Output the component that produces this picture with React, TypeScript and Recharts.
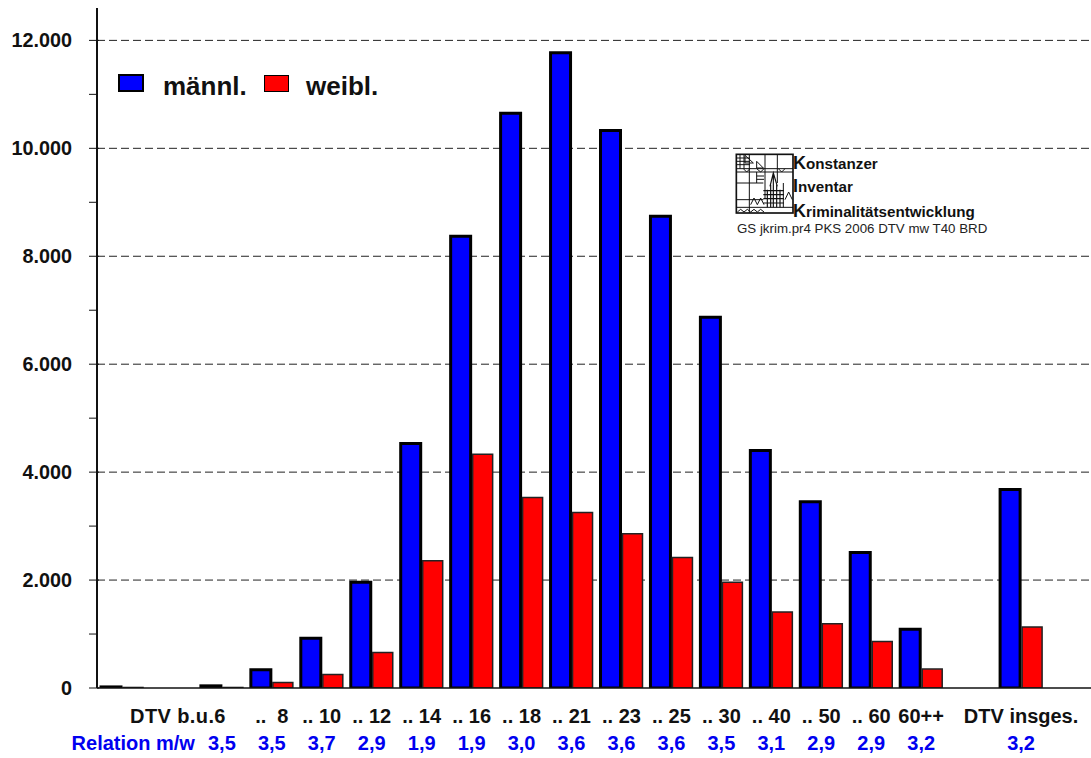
import React from 'react';
import { BarChart, Bar, XAxis, YAxis, CartesianGrid } from 'recharts';

const categories = ['', '', 'DTV b.u.6', '..  8', '.. 10', '.. 12', '.. 14', '.. 16', '.. 18', '.. 21', '.. 23', '.. 25', '.. 30', '.. 40', '.. 50', '.. 60', '60++', '', 'DTV insges.', ' '];
const relation = ['', 'Relation m/w', '3,5', '3,5', '3,7', '2,9', '1,9', '1,9', '3,0', '3,6', '3,6', '3,6', '3,5', '3,1', '2,9', '2,9', '3,2', '', '3,2', ''];
const maleValues = [20, 0, 40, 340, 920, 1960, 4530, 8370, 10650, 11770, 10330, 8740, 6870, 4400, 3450, 2510, 1090, 0, 3680, 0];
const femaleValues = [10, 0, 10, 100, 250, 660, 2360, 4330, 3530, 3250, 2860, 2420, 1960, 1410, 1190, 860, 350, 0, 1130, 0];
const yTicks = [0, 1000, 2000, 3000, 4000, 5000, 6000, 7000, 8000, 9000, 10000, 11000, 12000];
const gridValues = [2000, 4000, 6000, 8000, 10000, 12000];
const maleName = 'männl.';
const femaleName = 'weibl.';

const data = categories.map((c, i) => ({
  key: i,
  label: c,
  relation: relation[i],
  male: maleValues[i],
  female: femaleValues[i],
}));

const FONT = '"Liberation Sans", Arial, sans-serif';

const YTick = (props: any) => {
  const { x, y, payload } = props;
  const v = payload.value;
  const major = v % 2000 === 0;
  return (
    <g>
      <line x1={x} x2={x + (major ? 10 : 8)} y1={y} y2={y} stroke="#111" strokeWidth={1} />
      {major && (
        <text x={72} y={y + 7} textAnchor="end" fontFamily={FONT} fontWeight="bold" fontSize={19.8} fill="#111">
          {v === 0 ? '0' : v.toLocaleString('de-DE')}
        </text>
      )}
    </g>
  );
};

const XTick = (props: any) => {
  const { x, payload } = props;
  const row = data[payload.index] || data[payload.value];
  if (!row) return null;
  const isFirst = row.label === 'DTV b.u.6';
  const isRel = row.relation.startsWith('Rel');
  return (
    <g fontFamily={FONT} fontWeight="bold" fontSize={20}>
      <text x={isFirst ? x + 4 : x} y={723} textAnchor={isFirst ? 'end' : 'middle'} letterSpacing={isFirst ? 0.4 : 0} fill="#111" xmlSpace="preserve">{row.label}</text>
      <text x={isRel ? x + 23 : x} y={750} textAnchor={isRel ? 'end' : 'middle'} fill="#0000f0">{row.relation}</text>
    </g>
  );
};

// logo drawn in the coordinates of a 3x crop
const Logo = () => (
  <svg width={70} height={72} viewBox="0 0 210 216" style={{ position: 'absolute', left: 730, top: 148 }}>
    <g stroke="#111" fill="none" strokeWidth={3}>
      <rect x={19} y={19} width={170} height={176} strokeWidth={5} />
      <path d="M19 62H189M19 72H189M19 105H100M19 155H100M19 178H189M58 19V195M105 19V150M142 19V105M160 105V178" />
      <path d="M19 30H60M19 40H60M19 50H60M30 19V62M42 19V62M45 22L70 45L45 45ZM80 40L100 60L80 60Z" />
      <path d="M80 72V105M80 84H102M80 94H102M40 62L50 72L60 62M80 62L92 72L102 62M145 62L155 72L165 62" />
      <path d="M100 128H162M100 140H162M100 152H162M100 165H162M112 125V178M122 110V178M130 75V178M140 110V178M150 125V178M120 115L130 75L142 115" strokeWidth={3.5} />
      <path d="M62 170L72 150L82 170L92 150L102 170M165 155L176 132L187 155" />
      <path d="M22 192L32 184L42 192L52 184L62 192L72 184L82 192L92 184L102 192" />
    </g>
  </svg>
);

const logoLines = [
  ['K', 'onstanzer', 169],
  ['I', 'nventar', 192],
  ['K', 'riminalitätsentwicklung', 217],
] as const;

export default function App() {
  return (
    <div style={{ position: 'absolute', left: 0, top: 0, width: 1091, height: 758, background: '#fff', overflow: 'hidden', fontFamily: FONT }}>
      <BarChart
        width={1096}
        height={758}
        data={data}
        margin={{ top: 8, right: 0, left: 0, bottom: 0 }}
        barGap={2}
        barCategoryGap={3}
      >
        <CartesianGrid vertical={false} horizontalValues={gridValues} stroke="#222" strokeDasharray="8 4" />
        <XAxis
          dataKey="key"
          type="category"
          interval={0}
          height={70}
          tick={<XTick />}
          tickLine={false}
          axisLine={{ stroke: '#111', strokeWidth: 1.5 }}
        />
        <YAxis
          width={97}
          domain={[0, 12600]}
          ticks={yTicks}
          interval={0}
          tick={<YTick />}
          tickLine={false}
          axisLine={{ stroke: '#111', strokeWidth: 2 }}
          allowDataOverflow
        />
        <Bar dataKey="male" name={maleName} fill="#0000ff" stroke="#000" strokeWidth={3} barSize={20} isAnimationActive={false} />
        <Bar dataKey="female" name={femaleName} fill="#ff0000" stroke="#222" strokeWidth={1.5} barSize={20} isAnimationActive={false} />
      </BarChart>

      <div style={{ position: 'absolute', left: 118, top: 74, width: 26, height: 18, boxSizing: 'border-box', background: '#0000ff', border: '2.5px solid #000' }} />
      <div style={{ position: 'absolute', left: 163, top: 71, fontSize: 26, fontWeight: 'bold', color: '#111', lineHeight: '30px' }}>{maleName}</div>
      <div style={{ position: 'absolute', left: 264, top: 75, width: 25, height: 17, boxSizing: 'border-box', background: '#ff0000', border: '1.5px solid #000' }} />
      <div style={{ position: 'absolute', left: 306, top: 71, fontSize: 26, fontWeight: 'bold', color: '#111', lineHeight: '30px' }}>{femaleName}</div>

      <Logo />
      {logoLines.map(([first, rest, y]) => (
        <div key={rest} style={{ position: 'absolute', left: 793, top: y - 15, lineHeight: '18px', fontWeight: 'bold', fontSize: 15.2, color: '#111', whiteSpace: 'nowrap' }}>
          <span style={{ fontSize: 18 }}>{first}</span>{rest}
        </div>
      ))}
      <div style={{ position: 'absolute', left: 737, top: 221, fontSize: 13.3, lineHeight: '15px', color: '#222', whiteSpace: 'nowrap' }}>
        GS jkrim.pr4 PKS 2006 DTV mw T40 BRD
      </div>
    </div>
  );
}
